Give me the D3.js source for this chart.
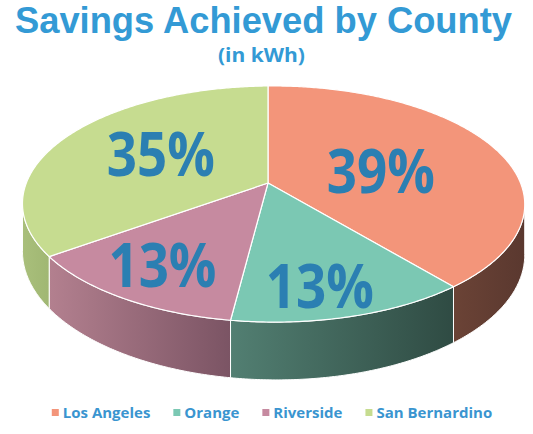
<!DOCTYPE html>
<html>
<head>
<meta charset="utf-8">
<script src="https://cdn.jsdelivr.net/npm/d3@7"></script>
<style>
  body { margin: 0; background: #fff; }
  text { font-family: "Open Sans", "DejaVu Sans", sans-serif; font-weight: 700; }
</style>
</head>
<body>
<svg id="chart" width="533" height="434"></svg>
<script>
// data
var counties = ["Los Angeles", "Orange", "Riverside", "San Bernardino"];
var savingsPct = [39, 13, 13, 35];

// look
var topColors = ["#f3957a", "#7bc8b3", "#c68aa0", "#c6dc90"];
var wallColors = [["#6b4336", "#5a382f"], ["#527f72", "#2f4b43"], ["#b3808f", "#7b5464"], ["#a9bf7b", "#a0b773"]];
// label placement: fraction of radius and angle shift (degrees) from slice middle
var labelRadius = [0.47, 0.8, 0.75, 0.53];
var labelShift = [7.8, 3.2, 0, 3];

var svg = d3.select("#chart");

// perspective projection of the pie plane
var P = { cx: 268, cy: 183, a: 247, b: 114.3, k: 0.178, m: 0.022, depth: 47.5 };
function proj(theta, f, drop) {
  var u = f * Math.sin(theta), v = -f * Math.cos(theta);
  var w = 1 - P.k * v - P.m * u;
  return [P.cx + P.a * u / w, P.cy + P.b * v / w + (drop || 0) / w];
}

var pie = d3.pie().sort(null).value(function(d) { return d; });
var arcs = pie(savingsPct);

// silhouette angles (where the wall starts to face the viewer)
var thR = 0, thL = Math.PI, best = -1e9, worst = 1e9;
for (var i = 0; i <= 3600; i++) {
  var t = i / 3600 * 2 * Math.PI, x = proj(t, 1)[0];
  if (x > best) { best = x; thR = t; }
  if (x < worst) { worst = x; thL = t; }
}

var line = d3.line();
var defs = svg.append("defs");

function arcPts(s, e, drop) {
  var n = Math.max(2, Math.ceil((e - s) / 0.01)), pts = [];
  for (var j = 0; j <= n; j++) pts.push(proj(s + (e - s) * j / n, 1, drop));
  return pts;
}

// walls
arcs.forEach(function(d, i) {
  var s = Math.max(d.startAngle, thR), e = Math.min(d.endAngle, thL);
  if (e <= s) return;
  var top = arcPts(s, e, 0), bot = arcPts(s, e, P.depth).reverse();
  var xs = top.map(function(p) { return p[0]; });
  var g = defs.append("linearGradient").attr("id", "wall" + i)
    .attr("gradientUnits", "userSpaceOnUse")
    .attr("x1", d3.min(xs)).attr("x2", d3.max(xs)).attr("y1", 0).attr("y2", 0);
  g.append("stop").attr("offset", 0).attr("stop-color", wallColors[i][0]);
  g.append("stop").attr("offset", 1).attr("stop-color", wallColors[i][1]);
  svg.append("path")
    .attr("d", line(top.concat(bot)) + "Z")
    .attr("fill", "url(#wall" + i + ")")
    .attr("stroke", "#fff").attr("stroke-width", 1);
});

// tops
arcs.forEach(function(d, i) {
  var pts = [proj(0, 0)].concat(arcPts(d.startAngle, d.endAngle, 0));
  svg.append("path")
    .attr("d", line(pts) + "Z")
    .attr("fill", topColors[i])
    .attr("stroke", "#fff").attr("stroke-width", 1.2).attr("stroke-linejoin", "round");
});

// labels
arcs.forEach(function(d, i) {
  var mid = (d.startAngle + d.endAngle) / 2 + labelShift[i] * Math.PI / 180;
  var c = proj(mid, labelRadius[i]);
  svg.append("text")
    .attr("x", c[0]).attr("y", c[1] + 21.5)
    .attr("text-anchor", "middle")
    .attr("font-size", 60)
    .attr("textLength", 108).attr("lengthAdjust", "spacingAndGlyphs")
    .attr("fill", "#2b7fb2")
    .text(d.data + "%");
});

// title
svg.append("text").attr("x", 263.5).attr("y", 33).attr("text-anchor", "middle")
  .style("font-family", "'Liberation Sans', Arial, sans-serif")
  .attr("font-size", 36).attr("fill", "#339ad5")
  .attr("textLength", 497).attr("lengthAdjust", "spacingAndGlyphs")
  .text("Savings Achieved by County");
svg.append("text").attr("x", 261.5).attr("y", 62).attr("text-anchor", "middle")
  .attr("font-size", 19).attr("fill", "#339ad5")
  .attr("textLength", 87).attr("lengthAdjust", "spacingAndGlyphs")
  .text("(in kWh)");

// legend
var leg = svg.append("g");
var lx = 0;
counties.forEach(function(name, i) {
  var it = leg.append("g").attr("transform", "translate(" + lx + ",0)");
  it.append("rect").attr("x", 0).attr("y", -9).attr("width", 7).attr("height", 7).attr("fill", topColors[i]);
  var t = it.append("text").attr("x", 11).attr("y", 0).attr("font-size", 15).attr("fill", "#3a95d0").text(name);
  lx += 11 + t.node().getComputedTextLength() + 23;
});
lx -= 23;
leg.attr("transform", "translate(" + (272 - lx / 2) + ",418)");
</script>
</body>
</html>
